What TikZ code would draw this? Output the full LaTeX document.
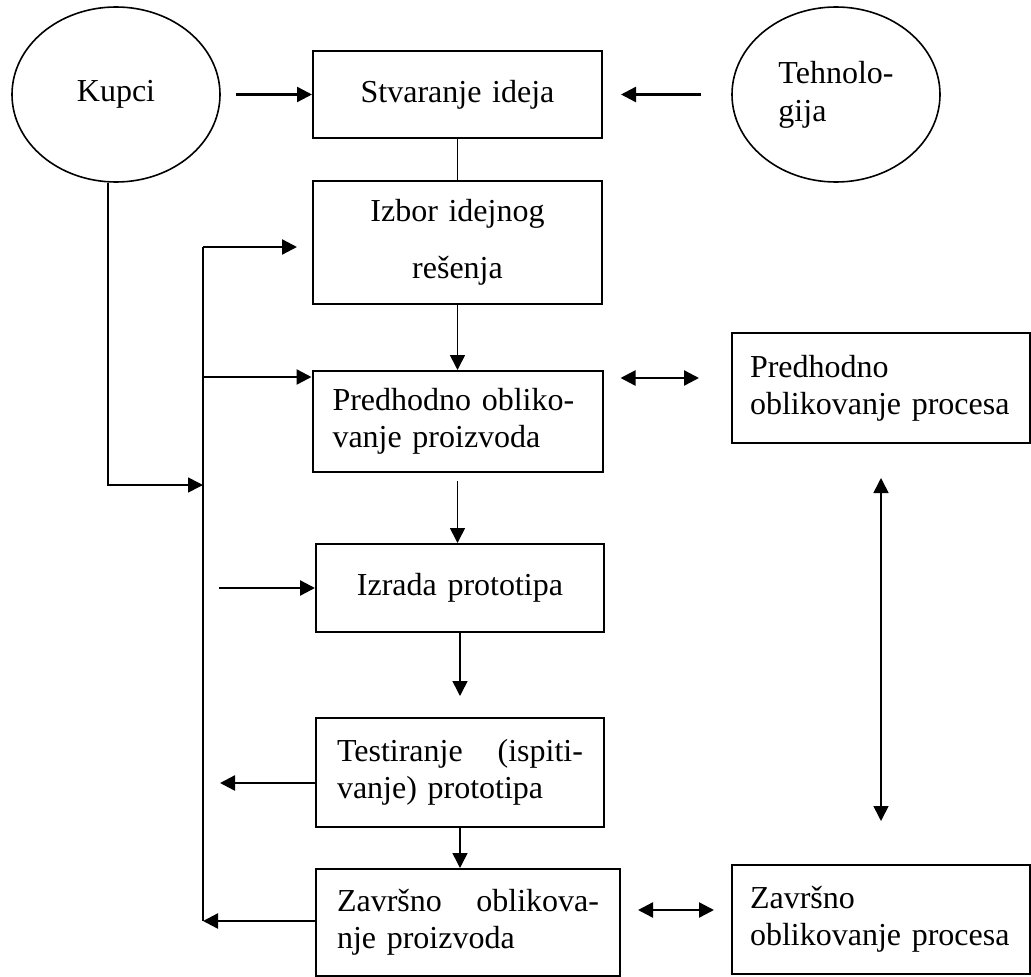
\documentclass[tikz,border=0pt]{standalone}
\usepackage{fontspec}
\setmainfont{Liberation Serif}
\usepackage{tikz}
\usetikzlibrary{shapes.geometric, arrows.meta, positioning}

\tikzset{
	stage/.style={draw, rectangle, line width=2pt, inner xsep=20pt, inner ysep=0pt, font=\fontsize{32}{37}\selectfont},
	origin/.style={draw, ellipse, line width=1.6pt, inner sep=0pt, minimum width=208pt, minimum height=175pt, font=\fontsize{32}{38}\selectfont},
	feed/.style={line width=2.4pt},
	>={Triangle[length=15pt, width=15pt]}
}

\begin{document}
\begin{tikzpicture}[x=1pt, y=-1pt, line width=1.6pt, node distance=150pt, on grid]
			\useasboundingbox (0,0) rectangle (1031,977);
			\node[origin] (kupci) at (116,94.5) {Kupci};
			\node[origin, align=left] (tehno) at (836,94.5) {Tehnolo-\\gija};
			\node[stage, text width=249pt, minimum height=87pt, align=center] (stvaranje) at (457.5,94.5) {Stvaranje ideja};
			\node[stage, text width=249pt, minimum height=123pt, align=center] (izbor) [below=148pt of stvaranje] {Izbor idejnog\\[20pt]re\v{s}enja};
			\node[stage, text width=250pt, minimum height=101pt, align=left] (predP) [below=179pt of izbor] {Predhodno obliko-\\vanje proizvoda};
			\node[stage, text width=248pt, minimum height=88pt, align=center] (izrada) [below=166.5pt of predP, xshift=2.5pt] {Izrada prototipa};
			\node[stage, inner xsep=21pt, text width=246pt, minimum height=109pt, align=left] (testiranje) [below=184.5pt of izrada] {Testiranje\hfill(ispiti-\\vanje) prototipa};
			\node[stage, inner xsep=21pt, text width=262pt, minimum height=107pt, align=left] (zavP) [below=150pt of testiranje, xshift=8pt] {Zavr\v{s}no\hfill oblikova-\\nje proizvoda};
			\node[stage, inner xsep=18pt, text width=262pt, minimum height=110pt, align=left] (predProc) at (881,388) {Predhodno\\oblikovanje procesa};
			\node[stage, inner xsep=18pt, text width=262pt, minimum height=109pt, align=left] (zavProc) at (881,919.5) {Zavr\v{s}no\\oblikovanje procesa};
			\coordinate (railtop) at (203,247);
			\coordinate (railbot) at (203,921);
			\coordinate (railP) at (203,377);
			\coordinate (railK) at (203,485);
			\coordinate (izradaIn) at (219,588);
			\coordinate (testOut) at (220,783);
			\coordinate (pp) at (0,378);
			\coordinate (zz) at (0,910);
			\draw[feed, ->, shorten <=15pt] (kupci) -- (stvaranje);
			\draw[feed, ->, shorten <=30pt, shorten >=18pt] (tehno) -- (stvaranje);
			\draw (stvaranje) -- (izbor);
			\draw[->] (izbor) -- (predP);
			\draw[->, shorten <=8pt] (predP) -- (predP |- izrada.north);
			\draw[->, shorten >=21pt] (izrada) -- (testiranje);
			\draw[->] (testiranje) -- (testiranje |- zavP.north);
			\draw (railtop) -- (railbot);
			\draw[feed, ->, shorten >=15pt] (railtop) -- (railtop -| izbor.west);
			\draw[feed, ->] (railP) -- (railP -| predP.west);
			\draw[->] ([xshift=-8pt]kupci.south) |- (railK);
			\draw[feed, ->] (izradaIn) -- (izradaIn -| izrada.west);
			\draw[feed, ->] (testOut -| testiranje.west) -- (testOut);
			\draw[feed, ->] (railbot -| zavP.west) -- (railbot);
			\draw[feed, <->, shorten <=17pt, shorten >=32pt] (predP.east |- pp) -- (predProc.west |- pp);
			\draw[feed, <->, shorten <=17pt, shorten >=17pt] (zavP.east |- zz) -- (zavProc.west |- zz);
			\draw[<->, shorten <=34pt, shorten >=43pt] (predProc) -- (zavProc);
		\end{tikzpicture}
\end{document}
